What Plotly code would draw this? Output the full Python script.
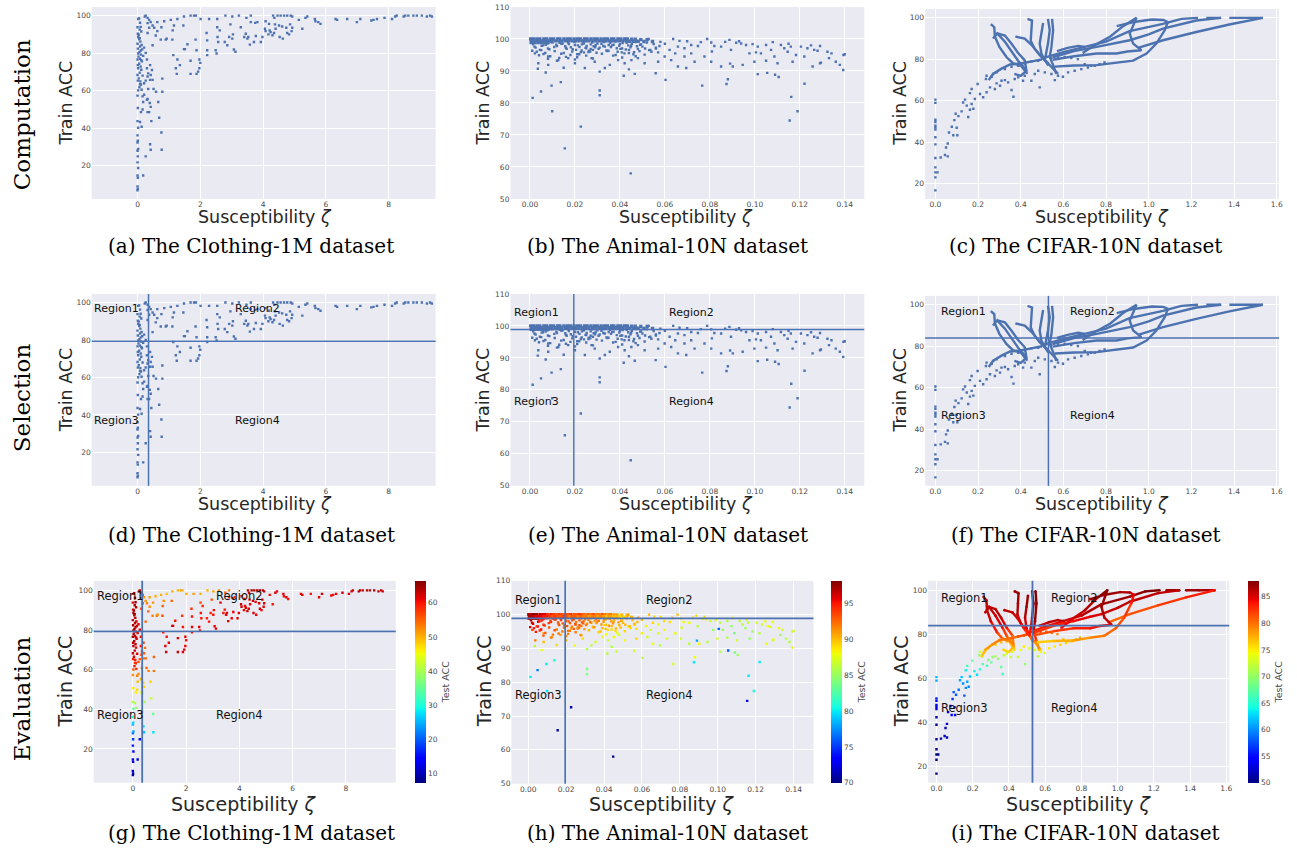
import plotly.graph_objects as go

# ======================= DATA =======================
# ---- Clothing-1M (susceptibility zeta, train acc, test acc) ----
clothing_col_x = [0.00, 0.01, 0.00, 0.01, 0.00, 0.02, 0.00, 0.01, 0.00, 0.02,
                  0.00, 0.01, 0.00, 0.02, 0.00, 0.01, 0.00, 0.02, 0.01, 0.00,
                  0.02, 0.01, 0.00, 0.02, 0.01, 0.00, 0.02, 0.01, 0.00, 0.02]
clothing_col_y = [6.8, 7.6, 8.9, 13.5, 14.7, 18.7, 21.7, 24.9, 27.9, 28.8,
                  32.3, 33.2, 36.1, 40.2, 43.7, 50.7, 57.3, 60.1, 65.3, 68.3,
                  71.9, 73.6, 76.6, 79.8, 82.4, 85.0, 88.6, 90.3, 93.8, 98.2]
clothing_col_t = [8, 9, 10, 12, 13, 15, 16, 18, 22, 24,
                  26, 27, 30, 35, 40, 46, 52, 56, 60, 62,
                  63, 63, 64, 64, 64, 63, 64, 62, 61, 60]

clothing_cluster_x = [0.05, 0.08, 0.10, 0.12, 0.04, 0.07, 0.09, 0.13, 0.15, 0.06,
                      0.11, 0.03, 0.08, 0.14, 0.05, 0.10, 0.12, 0.07, 0.16, 0.04,
                      0.09, 0.11, 0.06, 0.13, 0.08, 0.18, 0.05, 0.10, 0.07, 0.12]
clothing_cluster_y = [98.5, 96.2, 94.0, 91.5, 89.8, 88.0, 86.1, 84.3, 82.0, 80.5,
                      79.2, 78.1, 77.0, 75.6, 74.3, 72.8, 71.1, 69.6, 68.0, 66.5,
                      64.9, 63.2, 61.8, 60.4, 83.5, 78.5, 87.4, 81.4, 92.5, 76.2]
clothing_cluster_t = [63, 64, 65, 64, 65, 65, 64, 63, 62, 64,
                      63, 65, 64, 62, 64, 63, 62, 63, 61, 62,
                      60, 59, 60, 58, 63, 61, 64, 63, 64, 62]

clothing_mid_x = [0.18, 0.26, 0.42, 0.77, 0.76, 0.40, 0.13, 0.08, 0.44, 0.69,
                  0.37, 0.32, 0.11, 0.16, 0.42, 0.39, 0.32, 0.30, 0.66, 0.18,
                  0.21, 0.16, 0.34, 0.51, 0.59, 0.79, 0.08, 0.21, 0.26, 0.40,
                  0.48, 0.79, 0.32, 0.42, 0.34, 0.46, 0.30, 0.40, 0.30, 0.26,
                  0.21, 0.48, 0.74, 0.90, 0.93, 1.11, 0.32, 0.58, 0.63, 0.37,
                  0.53, 0.76, 0.48, 0.32, 0.42, 0.63, 0.85, 1.06, 1.27, 1.48,
                  0.23, 0.26, 0.32, 0.37, 1.69, 1.80, 1.86, 1.16, 1.46, 1.59,
                  1.51, 1.48, 1.88, 1.85, 1.69, 1.14, 1.25, 1.35, 1.27, 1.22,
                  1.69, 1.88, 1.93, 1.97, 2.00, 1.97, 2.01, 2.20, 2.22, 2.28,
                  2.54, 2.54, 2.62, 2.22, 2.22, 2.49, 2.52, 2.57, 2.78, 2.86,
                  2.80, 3.02, 2.96, 3.04, 3.02, 3.07, 3.12, 3.23, 1.12, 2.92, 2.55]
clothing_mid_y = [14.7, 24.9, 28.4, 28.4, 37.6, 31.4, 40.7, 43.2, 43.7, 45.5,
                  48.5, 48.5, 48.5, 49.9, 51.3, 53.4, 55.5, 55.1, 53.9, 53.9,
                  57.8, 56.9, 60.8, 60.8, 59.4, 59.4, 63.4, 63.9, 65.3, 65.7,
                  65.7, 66.4, 67.5, 68.3, 69.2, 71.0, 71.9, 73.6, 76.6, 80.1,
                  82.9, 84.2, 87.2, 87.2, 87.7, 87.2, 90.7, 89.4, 91.7, 93.5,
                  93.5, 93.8, 94.7, 96.0, 96.5, 96.5, 97.0, 97.7, 98.2, 99.5,
                  99.5, 100.0, 98.8, 97.7, 100.0, 100.0, 100.0, 94.7, 94.7, 84.7,
                  82.1, 82.1, 81.5, 87.2, 75.9, 78.9, 68.9, 73.6, 76.6, 71.9,
                  68.9, 68.9, 70.1, 71.9, 74.8, 76.6, 98.2, 90.7, 86.8, 98.2,
                  98.2, 93.8, 92.1, 81.5, 78.9, 81.5, 79.8, 85.9, 85.9, 84.2,
                  100.0, 99.5, 95.3, 90.0, 87.7, 81.9, 80.7, 100.0, 92.1, 88.6, 88.6]
clothing_mid_t = [12, 15, 26, 28, 35, 28, 38, 41, 40, 42,
                  44, 45, 46, 47, 48, 48, 50, 50, 48, 49,
                  52, 53, 54, 55, 53, 54, 58, 57, 56, 54,
                  55, 55, 57, 55, 58, 54, 60, 57, 60, 61,
                  62, 55, 53, 54, 52, 56, 58, 55, 52, 56,
                  53, 52, 52, 58, 52, 51, 50, 50, 49, 50,
                  62, 63, 60, 57, 50, 51, 50, 52, 55, 60,
                  61, 62, 60, 58, 62, 60, 62, 61, 60, 61,
                  63, 62, 62, 61, 60, 61, 50, 58, 60, 51,
                  50, 57, 59, 61, 60, 61, 60, 60, 59, 60,
                  50, 51, 56, 60, 60, 61, 62, 52, 55, 59, 60]

clothing_far_x = [3.29, 3.47, 3.61, 3.45, 3.50, 3.40, 3.61, 3.75, 3.82, 3.58,
                  3.71, 3.93, 3.53, 4.08, 4.06, 4.08, 4.24, 4.32, 4.36, 4.46,
                  4.56, 4.67, 4.77, 4.88, 4.93, 4.40, 4.38, 4.51, 4.61, 4.74,
                  4.86, 4.93, 4.91, 4.77, 4.63, 4.53, 4.83, 4.30, 4.21, 4.35,
                  4.17, 5.14, 5.35, 5.41, 5.25, 5.65, 5.67, 5.76, 5.83, 6.31,
                  6.36, 6.68, 6.99, 7.10, 7.45, 7.52, 7.63, 7.87, 8.11, 8.21,
                  8.26, 8.48, 8.53, 8.63, 8.79, 8.90, 9.06, 9.22, 9.32, 9.38,
                  4.19, 3.77, 3.98]
clothing_far_y = [93.8, 98.8, 100, 90.3, 87.7, 88.6, 96.5, 96.1, 96.5, 84.5,
                  85.9, 85.9, 88.6, 97.0, 93.0, 91.7, 91.2, 100, 98.8, 100,
                  100, 100, 100, 100, 99.5, 93.0, 95.3, 94.7, 94.2, 93.5,
                  95.3, 93.5, 91.7, 90.7, 87.7, 88.6, 90.0, 89.5, 92.1, 90.7,
                  90.0, 97.7, 98.8, 99.5, 93.0, 98.2, 97.0, 96.5, 95.6, 98.2,
                  97.7, 98.2, 96.5, 98.2, 97.4, 97.7, 98.2, 98.8, 98.2, 99.5,
                  100, 99.5, 100, 100, 100, 100, 100, 99.5, 100, 99.5,
                  95.6, 89.1, 88.6]
clothing_far_t = [61, 55, 53, 60, 61, 60, 58, 59, 58, 62,
                  61, 61, 61, 60, 62, 62, 62, 63, 62, 64,
                  65, 64, 65, 64, 63, 61, 60, 62, 61, 62,
                  61, 62, 61, 62, 61, 62, 61, 62, 61, 62,
                  61, 60, 61, 61, 60, 61, 60, 61, 60, 61,
                  62, 60, 61, 62, 61, 60, 61, 62, 61, 62,
                  63, 63, 64, 63, 64, 63, 64, 63, 63, 62,
                  61, 61, 61]

# ---- Animal-10N ----
animal_band_x = [0.0003, 0.0016, 0.0031, 0.0044, 0.0062, 0.0074, 0.0091,
                 0.0104, 0.0122, 0.0133, 0.0151, 0.0166, 0.0179, 0.0196, 0.0211, 0.0224, 0.0242, 0.0254, 0.0271, 0.0286,
                 0.0299, 0.0316, 0.0331, 0.0344, 0.0362, 0.0373, 0.0391, 0.0404, 0.0421, 0.0433, 0.0452, 0.0468, 0.0493, 0.0521,
                 0.0008, 0.0024, 0.0038, 0.0053, 0.0068, 0.0083, 0.0097,
                 0.0113, 0.0128, 0.0142, 0.0158, 0.0172, 0.0187, 0.0203, 0.0218, 0.0233, 0.0248, 0.0262, 0.0278, 0.0293,
                 0.0308, 0.0323, 0.0338, 0.0353, 0.0368, 0.0383, 0.0398, 0.0413, 0.0428, 0.0443, 0.0459, 0.0481, 0.0507, 0.0545,
                 0.0005, 0.0020, 0.0035, 0.0050, 0.0065, 0.0080]
animal_band_y = [100.0, 100.0, 100.0, 100.0, 100.0, 100.0, 100.0,
                 100.0, 100.0, 100.0, 100.0, 100.0, 100.0, 100.0, 100.0, 100.0, 100.0, 100.0, 100.0, 100.0,
                 100.0, 100.0, 100.0, 100.0, 100.0, 100.0, 100.0, 100.0, 100.0, 100.0, 99.9, 99.9, 99.8, 99.8,
                 99.4, 99.4, 99.4, 99.4, 99.4, 99.4, 99.4,
                 99.4, 99.4, 99.4, 99.4, 99.4, 99.4, 99.4, 99.4, 99.4, 99.4, 99.4, 99.4, 99.4,
                 99.4, 99.4, 99.4, 99.4, 99.4, 99.4, 99.4, 99.4, 99.4, 99.3, 99.3, 99.3, 99.2, 99.2,
                 98.9, 98.9, 98.9, 98.9, 98.9, 98.9]
animal_band_t = [97, 97, 98, 97, 97, 96, 96,
                 94, 95, 94, 93, 94, 93, 94, 93, 94, 93, 93, 94, 93,
                 92, 93, 92, 93, 92, 92, 93, 92, 91, 92, 91, 91, 90, 90,
                 97, 97, 96, 96, 96, 95, 95,
                 94, 93, 94, 93, 93, 94, 93, 92, 93, 93, 92, 93, 92,
                 92, 91, 92, 92, 91, 92, 91, 90, 91, 90, 90, 89, 89, 90,
                 97, 97, 96, 96, 95, 95]

animal_cloud_x = [0.001, 0.002, 0.004, 0.005, 0.007, 0.008, 0.010, 0.011, 0.012, 0.014,
                  0.015, 0.016, 0.017, 0.019, 0.020, 0.021, 0.022, 0.023, 0.024, 0.025,
                  0.026, 0.027, 0.028, 0.029, 0.003, 0.006, 0.009, 0.013, 0.018, 0.021,
                  0.024, 0.027, 0.001, 0.004, 0.008, 0.012, 0.016, 0.020, 0.025, 0.028,
                  0.030, 0.031, 0.033, 0.034, 0.035, 0.036, 0.038, 0.039, 0.040, 0.041,
                  0.042, 0.043, 0.044, 0.045, 0.046, 0.047, 0.048, 0.049, 0.050, 0.052,
                  0.053, 0.055, 0.056, 0.058, 0.032, 0.037, 0.041, 0.044, 0.047, 0.051,
                  0.054, 0.057,
                  0.0014, 0.0037, 0.0052, 0.0078, 0.0093, 0.0117, 0.0132, 0.0157, 0.0173, 0.0198,
                  0.0213, 0.0238, 0.0252, 0.0277, 0.0292, 0.0318, 0.0333, 0.0357, 0.0372, 0.0397,
                  0.0412, 0.0437, 0.0453, 0.0476, 0.0494, 0.0188, 0.0262, 0.0344, 0.0402, 0.0226,
                  0.0025, 0.0058, 0.0086, 0.0108, 0.0145, 0.0163, 0.0182, 0.0205, 0.0231, 0.0247,
                  0.0268, 0.0283, 0.0305, 0.0326, 0.0349, 0.0365, 0.0386, 0.0408, 0.0426, 0.0447,
                  0.0463, 0.0487, 0.0512, 0.0535, 0.0576, 0.0068, 0.0139, 0.0219, 0.0296, 0.0381]
animal_cloud_y = [98.8, 97.6, 99.1, 96.5, 98.2, 97.0, 98.9, 96.2, 97.8, 98.5,
                  95.6, 97.2, 98.9, 96.8, 98.1, 95.2, 97.5, 96.4, 98.7, 97.1,
                  95.9, 98.3, 96.6, 97.4, 96.0, 95.3, 94.6, 94.1, 95.0, 94.3,
                  95.8, 96.9, 96.3, 94.9, 93.8, 93.2, 94.4, 93.6, 94.8, 93.9,
                  98.6, 97.3, 99.0, 96.4, 98.1, 97.5, 99.2, 96.0, 98.4, 97.0,
                  95.5, 98.8, 96.6, 97.9, 95.2, 99.0, 96.9, 98.2, 97.6, 98.9,
                  96.5, 98.4, 97.3, 99.1, 95.4, 94.8, 94.2, 95.6, 94.6, 95.1,
                  96.0, 95.8,
                  98.3, 98.9, 97.9, 98.6, 99.0, 98.2, 98.8, 97.7, 98.4, 99.0,
                  98.0, 98.6, 97.8, 98.9, 98.1, 98.5, 97.6, 98.8, 98.2, 97.9,
                  98.7, 98.0, 98.5, 97.7, 98.3, 96.1, 96.3, 96.2, 96.9, 95.9,
                  97.3, 98.0, 96.8, 97.5, 98.6, 96.9, 97.4, 96.6, 98.3, 97.2,
                  96.1, 97.7, 96.9, 97.8, 96.3, 98.0, 97.1, 95.8, 96.7, 97.4,
                  95.9, 96.2, 97.0, 96.6, 97.8, 95.6, 95.4, 95.2, 95.7, 95.0]
animal_cloud_t = [96, 96, 96, 95, 94, 94, 93, 93, 94, 93,
                  92, 93, 94, 93, 93, 92, 93, 92, 94, 93,
                  92, 93, 92, 93, 95, 94, 93, 92, 92, 92,
                  93, 93, 96, 95, 93, 92, 92, 91, 92, 91,
                  92, 91, 92, 90, 91, 91, 92, 90, 91, 90,
                  89, 91, 90, 91, 89, 91, 90, 91, 90, 91,
                  89, 90, 90, 91, 90, 89, 88, 89, 88, 89,
                  89, 89,
                  97, 97, 96, 95, 94, 94, 94, 93, 94, 93,
                  93, 94, 92, 93, 92, 92, 91, 92, 92, 91,
                  91, 91, 90, 91, 90, 92, 91, 90, 89, 91,
                  96, 95, 94, 94, 94, 93, 93, 93, 93, 93,
                  92, 93, 92, 92, 91, 92, 91, 90, 91, 91,
                  90, 90, 90, 90, 90, 95, 93, 92, 91, 90]

animal_spread_x = [0.0528, 0.0637, 0.0665, 0.0699, 0.0717, 0.0658, 0.0687, 0.0621, 0.0646, 0.0687,
                   0.0717, 0.0747, 0.0788, 0.0806, 0.0820, 0.0809, 0.0850, 0.0868, 0.0887, 0.0894,
                   0.0917, 0.0939, 0.0961, 0.0976, 0.0990, 0.1013, 0.1027, 0.1050, 0.1072, 0.1087,
                   0.1116, 0.1131, 0.1146, 0.1160, 0.1183, 0.1205, 0.1234, 0.1264, 0.1279, 0.1323,
                   0.1341, 0.1360, 0.1400, 0.1330, 0.1294, 0.1220, 0.1168, 0.1101, 0.1050, 0.0998,
                   0.0946, 0.0902, 0.0850, 0.0806, 0.0776, 0.0732, 0.0695, 0.0658, 0.0628, 0.0599,
                   0.0570, 0.0510, 0.0480, 0.0451, 0.0421, 0.0392, 0.0355, 0.0333, 0.0288, 0.0274,
                   0.0244, 0.0200, 0.0170, 0.0126, 0.0081, 0.0037, 0.0022, 0.0044, 0.0081, 0.0600,
                   0.0560, 0.0760, 0.0930, 0.1080, 0.1150, 0.1250, 0.1290, 0.0440, 0.0310, 0.0150]
animal_spread_y = [100.0, 100.0, 99.4, 99.3, 98.1, 97.6, 97.1, 96.6, 95.5, 94.5,
                   95.5, 97.8, 100.0, 98.9, 97.8, 96.1, 97.6, 99.1, 99.7, 96.6,
                   98.8, 98.6, 98.1, 95.5, 98.4, 97.6, 95.5, 98.1, 96.6, 94.5,
                   98.1, 97.1, 96.0, 97.6, 95.0, 97.6, 97.1, 96.6, 96.3, 96.0,
                   95.5, 92.9, 95.2, 94.0, 92.6, 94.5, 92.9, 92.4, 93.2, 92.9,
                   91.9, 91.4, 91.4, 92.9, 94.5, 92.9, 90.9, 91.4, 93.4, 94.5,
                   92.9, 92.4, 94.0, 93.4, 92.4, 93.4, 91.9, 90.9, 92.9, 94.0,
                   90.9, 92.4, 94.0, 93.4, 91.9, 92.4, 95.5, 96.6, 94.5, 98.5,
                   97.0, 99.0, 99.3, 99.0, 98.5, 98.0, 97.8, 90.5, 89.8, 91.0]
animal_spread_t = [91, 90, 89, 89, 89, 89, 88, 88, 87, 87,
                   88, 89, 90, 89, 88, 87, 88, 89, 89, 86,
                   88, 88, 87, 85, 87, 86, 85, 86, 85, 84,
                   86, 86, 85, 86, 85, 87, 87, 88, 87, 88,
                   87, 86, 87, 85, 88, 86, 85, 87, 86, 87,
                   86, 88, 86, 87, 88, 87, 86, 88, 87, 88,
                   89, 88, 87, 88, 87, 88, 87, 86, 89, 90,
                   88, 90, 91, 91, 90, 92, 94, 93, 91, 90,
                   89, 90, 89, 88, 87, 88, 88, 86, 86, 89]

animal_out_x = [0.0012, 0.0099, 0.0137, 0.0155, 0.0226, 0.0448, 0.0310, 0.0310, 0.0096, 0.0049,
                0.0417, 0.0466, 0.0559, 0.0603, 0.0766, 0.0874, 0.0880, 0.1013, 0.1090, 0.1106,
                0.1221, 0.1162, 0.1155, 0.1190, 0.1393, 0.1394, 0.1378, 0.1257, 0.1290, 0.1005,
                0.1055, 0.0890, 0.0070, 0.0035]
animal_out_y = [81.6, 77.4, 86.5, 65.8, 72.6, 58.0, 83.9, 82.4, 85.4, 83.6,
                88.5, 89.1, 89.3, 87.2, 85.4, 85.9, 87.4, 89.0, 88.8, 88.1,
                86.0, 81.9, 74.5, 77.4, 90.3, 95.0, 91.9, 91.4, 92.4, 95.8,
                89.4, 92.3, 89.5, 90.7]
animal_out_t = [80, 80, 81, 71, 71, 70, 84, 84, 80, 77,
                86, 87, 87, 86, 87, 80, 88, 86, 84, 85,
                80, 80, 73, 81, 88, 87, 86, 88, 87, 76,
                76, 78, 88, 86]

# ---- CIFAR-10N ----
cifar_pts_x = [0.0, 0.0, 0.0, 0.0, 0.0, 0.0, 0.0, 0.0, 0.0, 0.0,
               0.0, 0.0, 0.0, 0.0, 0.01, 0.025, 0.045, 0.058, 0.05, 0.058,
               0.064, 0.077, 0.084, 0.103, 0.089, 0.10, 0.095, 0.108, 0.123, 0.13,
               0.139, 0.147, 0.154, 0.162, 0.17, 0.178, 0.162, 0.17, 0.185, 0.198,
               0.209, 0.224, 0.237, 0.24, 0.256, 0.264, 0.279, 0.287, 0.303, 0.31,
               0.326, 0.366, 0.357, 0.341, 0.372, 0.388, 0.411, 0.419, 0.45, 0.466,
               0.489, 0.482, 0.513, 0.544, 0.56, 0.575, 0.598, 0.622, 0.653, 0.684,
               0.715, 0.747, 0.77, 0.793, 0.24, 0.271, 0.287, 0.326, 0.357, 0.388,
               0.419, 0.45, 0.482, 0.544, 0.575, 0.606, 0.637, 0.668, 0.70, 0.73]
cifar_pts_y = [60.6, 59.0, 50.9, 49.8, 48.0, 47.1, 46.1, 42.4, 39.0, 32.4,
               27.9, 25.5, 23.1, 16.8, 25.5, 32.7, 33.9, 33.2, 37.5, 39.4,
               44.7, 47.5, 43.4, 43.4, 50.7, 47.0, 53.8, 52.6, 54.9, 59.2,
               60.6, 57.7, 52.2, 55.7, 58.5, 56.2, 63.7, 65.7, 60.9, 68.1,
               63.3, 61.7, 70.5, 64.1, 66.5, 71.6, 65.7, 68.4, 67.3, 69.7,
               70.0, 62.0, 65.2, 68.9, 70.5, 71.3, 69.7, 72.1, 69.7, 72.9,
               66.5, 74.5, 73.7, 72.9, 70.0, 72.1, 71.6, 73.7, 74.5, 75.3,
               76.1, 76.9, 77.7, 78.5, 72.1, 72.9, 73.7, 75.3, 76.4, 76.9,
               78.0, 79.0, 79.3, 80.6, 80.9, 81.2, 80.6, 80.1, 77.7, 76.9]
cifar_pts_t = [62, 61, 56, 55, 54, 53, 53, 52, 51, 51,
               50, 50, 50, 50, 51, 51, 52, 52, 52, 53,
               54, 55, 54, 55, 57, 56, 58, 58, 59, 61,
               62, 60, 58, 60, 61, 60, 64, 66, 62, 68,
               64, 63, 70, 65, 67, 72, 66, 69, 68, 70,
               71, 66, 68, 70, 72, 73, 72, 73, 72, 74,
               70, 75, 74, 74, 72, 74, 74, 75, 75, 76,
               76, 77, 77, 78, 73, 74, 75, 76, 77, 77,
               78, 79, 80, 81, 81, 81, 80, 79, 77, 77]

# training trajectories (thick curves)
cifar_traj_x = [
    [0.26, 0.276, 0.279, 0.30, 0.334, 0.365, 0.40, 0.42],
    [0.27, 0.29, 0.326, 0.365, 0.39, 0.42, 0.43],
    [0.29, 0.326, 0.357, 0.388, 0.419, 0.427, 0.40, 0.37],
    [0.375, 0.419, 0.45, 0.482, 0.505, 0.53],
    [0.432, 0.453, 0.45, 0.447, 0.466, 0.489, 0.513, 0.53],
    [0.505, 0.497, 0.489, 0.497, 0.513, 0.544, 0.575],
    [0.528, 0.536, 0.528, 0.521, 0.513],
    [0.547, 0.552, 0.544, 0.536, 0.552, 0.567],
    [0.25, 0.27, 0.31, 0.35, 0.40, 0.45, 0.50],
    [0.50, 0.60, 0.70, 0.80, 0.91, 1.067, 1.153, 1.231],
    [1.27, 1.30, 1.34],
    [1.378, 1.45, 1.535],
    [0.55, 0.65, 0.756, 0.849, 0.911, 1.0, 1.067, 1.223, 1.339],
    [0.95, 1.067, 1.223, 1.378, 1.535],
    [0.56, 0.65, 0.756, 0.85, 0.927, 0.99, 1.036, 1.075, 1.09, 1.068, 1.015, 0.93, 0.85],
    [0.69, 0.75, 0.82, 0.88, 0.943, 0.93, 0.911, 0.927, 0.966, 0.90, 0.849, 0.756, 0.65, 0.55],
    [0.57, 0.62, 0.67, 0.70],
]
cifar_traj_y = [
    [97, 95.5, 91, 86, 81, 78, 77, 74.5],
    [90, 92.5, 88.5, 83, 79, 75.5, 73],
    [92.5, 91.5, 87.5, 83, 79.5, 74.5, 72, 73],
    [91, 90, 87, 83, 80.4, 78],
    [99.5, 98.7, 94, 89, 85, 82, 79.6, 77],
    [97.5, 92.4, 87.6, 82.8, 79.6, 76.4, 73],
    [99.5, 94, 87.6, 82.8, 79.6],
    [99.5, 94, 86, 81.2, 77.2, 73],
    [70, 73, 75.5, 77.5, 78, 79, 80],
    [80.5, 83.5, 86, 88.5, 93.6, 97.1, 99.5, 100],
    [100, 100, 100],
    [100, 100, 100],
    [81, 84, 86, 88, 89.2, 92, 94.8, 98.7, 100],
    [85.5, 89.2, 93.2, 96.8, 100],
    [76.5, 77, 77.2, 78.5, 79.4, 82.8, 87.6, 94, 98, 99, 99.2, 98, 96],
    [83, 87, 91, 96, 100, 97, 92.4, 87.6, 84.4, 83.8, 82.8, 82.8, 81.5, 79.8],
    [84, 85.5, 86.5, 86],
]
cifar_traj_t = [
    [86, 86, 86, 85, 83, 80, 78, 76],
    [86, 86, 86, 84, 81, 78, 76],
    [86, 86, 86, 84, 81, 78, 76, 76],
    [86, 86, 85, 84, 82, 80],
    [87, 87, 87, 86, 85, 83, 81, 79],
    [87, 87, 86, 85, 82, 79, 76],
    [88, 87, 87, 85, 83],
    [88, 88, 87, 85, 81, 77],
    [76, 78, 79, 80, 80, 81, 82],
    [83, 84, 85, 86, 87, 87, 88, 88],
    [87, 87, 87],
    [87, 87, 86],
    [82, 83, 84, 85, 85, 86, 86, 86, 86],
    [80, 81, 82, 83, 84],
    [76, 77, 78, 79, 80, 81, 82, 83, 85, 86, 87, 87, 87],
    [84, 85, 86, 87, 88, 87, 87, 86, 85, 84, 84, 83, 82, 81],
    [85, 86, 86, 86],
]

# region thresholds (zeta, train acc) and tick labels
clothing_split = [0.35, 79.3]
animal_split = [0.0195, 98.9]
cifar_split = [0.53, 84.0]
clothing_xticks = [0, 2, 4, 6, 8]
clothing_yticks = [20, 40, 60, 80, 100]
animal_xticks = [0.0, 0.02, 0.04, 0.06, 0.08, 0.10, 0.12, 0.14]
animal_yticks = [50, 60, 70, 80, 90, 100, 110]
cifar_xticks = [0.0, 0.2, 0.4, 0.6, 0.8, 1.0, 1.2, 1.4, 1.6]
cifar_yticks = [20, 40, 60, 80, 100]
clothing_cbticks = [10, 20, 30, 40, 50, 60]
animal_cbticks = [70, 75, 80, 85, 90, 95]
cifar_cbticks = [50, 55, 60, 65, 70, 75, 80, 85]

row_names = ["Computation", "Selection", "Evaluation"]
captions = [["(a) The Clothing-1M dataset", "(b) The Animal-10N dataset", "(c) The CIFAR-10N dataset"],
            ["(d) The Clothing-1M dataset", "(e) The Animal-10N dataset", "(f) The CIFAR-10N dataset"],
            ["(g) The Clothing-1M dataset", "(h) The Animal-10N dataset", "(i) The CIFAR-10N dataset"]]
region_names = ["Region1", "Region2", "Region3", "Region4"]

# ======================= HELPERS =======================
for a, b, c in [(clothing_col_x, clothing_col_y, clothing_col_t),
                (clothing_cluster_x, clothing_cluster_y, clothing_cluster_t),
                (clothing_mid_x, clothing_mid_y, clothing_mid_t),
                (clothing_far_x, clothing_far_y, clothing_far_t),
                (animal_band_x, animal_band_y, animal_band_t),
                (animal_cloud_x, animal_cloud_y, animal_cloud_t),
                (animal_spread_x, animal_spread_y, animal_spread_t),
                (animal_out_x, animal_out_y, animal_out_t),
                (cifar_pts_x, cifar_pts_y, cifar_pts_t)]:
    assert len(a) == len(b) == len(c), (len(a), len(b), len(c))
for a, b, c in zip(cifar_traj_x, cifar_traj_y, cifar_traj_t):
    assert len(a) == len(b) == len(c)

clothing_x = clothing_col_x + clothing_cluster_x + clothing_mid_x + clothing_far_x
clothing_y = clothing_col_y + clothing_cluster_y + clothing_mid_y + clothing_far_y
clothing_t = clothing_col_t + clothing_cluster_t + clothing_mid_t + clothing_far_t
animal_x = animal_spread_x + animal_cloud_x + animal_out_x
animal_y = animal_spread_y + animal_cloud_y + animal_out_y
animal_t = animal_spread_t + animal_cloud_t + animal_out_t

W, H = 1297, 851
BLUE = '#4C72B0'
BG = '#EAEAF2'
SANS = 'DejaVu Sans'
SERIF = 'DejaVu Serif'
MS = 2.4      # scatter marker size
MS_BAND = 3.4  # marker size of the saturated band

JET_STOPS = [(0.0, (0, 0, 128)), (0.11, (0, 0, 255)), (0.125, (0, 0, 255)), (0.34, (0, 219, 255)),
             (0.35, (0, 230, 247)), (0.375, (21, 255, 226)), (0.64, (239, 255, 8)), (0.65, (247, 245, 0)),
             (0.66, (255, 236, 0)), (0.89, (255, 19, 0)), (0.91, (232, 0, 0)), (1.0, (128, 0, 0))]
JET = [[s, 'rgb(%d,%d,%d)' % c] for s, c in JET_STOPS]


def jet_color(v, vmin, vmax):
    f = min(1.0, max(0.0, (v - vmin) / (vmax - vmin)))
    for (s0, c0), (s1, c1) in zip(JET_STOPS[:-1], JET_STOPS[1:]):
        if s0 <= f <= s1:
            u = 0 if s1 == s0 else (f - s0) / (s1 - s0)
            return 'rgb(%d,%d,%d)' % tuple(round(a + (b - a) * u) for a, b in zip(c0, c1))
    return 'rgb(128,0,0)'


# panel pixel boxes: left, right, top, bottom
PANELS = {
    1: (92, 437, 3, 197), 2: (512, 867, 3, 197), 3: (928, 1283, 5, 197),
    4: (92, 437, 293, 487), 5: (512, 867, 293, 487), 6: (928, 1283, 295, 487),
    7: (94, 397, 583, 787), 8: (513, 816, 583, 788), 9: (931, 1233, 583, 787),
}
XR = {1: [-1.46, 9.5], 2: [-0.0087, 0.1487], 3: [-0.048, 1.611],
      4: [-1.46, 9.5], 5: [-0.0087, 0.1487], 6: [-0.048, 1.611],
      7: [-1.47, 9.87], 8: [-0.0089, 0.1505], 9: [-0.046, 1.616]}
YR = {1: [2.2, 104.6], 2: [50, 110], 3: [12.7, 104.3],
      4: [2.2, 104.6], 5: [50, 110], 6: [12.7, 104.3],
      7: [3.0, 104.8], 8: [50, 110], 9: [12.7, 104.3]}
XT = {0: (clothing_xticks, None), 1: (animal_xticks, '.2f'), 2: (cifar_xticks, '.1f')}
YT = {0: clothing_yticks, 1: animal_yticks, 2: cifar_yticks}

fig = go.Figure()
layout = dict(width=W, height=H, margin=dict(l=0, r=0, t=0, b=0),
              paper_bgcolor='white', plot_bgcolor=BG, showlegend=False,
              font=dict(family=SANS, color='#262626'))
annotations = []
shapes = []

tickfont = dict(family=SANS, size=7.5, color='#4a4a4a')
for n, (l, r, t, b) in PANELS.items():
    col = (n - 1) % 3
    xa = 'xaxis' if n == 1 else 'xaxis%d' % n
    ya = 'yaxis' if n == 1 else 'yaxis%d' % n
    tv, fmt = XT[col]
    layout[xa] = dict(domain=[l / W, r / W], anchor='y' if n == 1 else 'y%d' % n,
                      range=XR[n], tickvals=tv, tickformat=fmt, showgrid=True, gridcolor='white',
                      gridwidth=1, zeroline=False, showline=False, ticks='', tickfont=tickfont)
    layout[ya] = dict(domain=[1 - b / H, 1 - t / H], anchor='x' if n == 1 else 'x%d' % n,
                      range=YR[n], tickvals=YT[col], showgrid=True, gridcolor='white',
                      gridwidth=1, zeroline=False, showline=False, ticks='', tickfont=tickfont)


def ax(n):
    return ('x', 'y') if n == 1 else ('x%d' % n, 'y%d' % n)


datasets = [(clothing_x, clothing_y, clothing_t, 7.3, 66.4, clothing_cbticks, 416),
            (animal_x, animal_y, animal_t, 70, 98.1, animal_cbticks, 834),
            (cifar_pts_x, cifar_pts_y, cifar_pts_t, 50, 88.0, cifar_cbticks, 1252)]

for row in range(3):
    for col in range(3):
        n = row * 3 + col + 1
        xr, yr = ax(n)
        dx, dy, dt, cmin, cmax, cbt, cbx = datasets[col]
        if row < 2:
            if col == 2:
                for tx, ty in zip(cifar_traj_x, cifar_traj_y):
                    fig.add_trace(go.Scatter(x=tx, y=ty, mode='lines', xaxis=xr, yaxis=yr,
                                             line=dict(color=BLUE, width=2.4), hoverinfo='skip'))
            if col == 1:
                fig.add_trace(go.Scatter(x=animal_band_x, y=animal_band_y, mode='markers',
                                         xaxis=xr, yaxis=yr, hoverinfo='skip',
                                         marker=dict(color=BLUE, size=MS_BAND, symbol='square',
                                                     line=dict(width=0))))
            fig.add_trace(go.Scatter(x=dx, y=dy, mode='markers', xaxis=xr, yaxis=yr,
                                     marker=dict(color=BLUE, size=MS, symbol='square',
                                                 line=dict(width=0)),
                                     hoverinfo='skip'))
        else:
            if col == 1:
                fig.add_trace(go.Scatter(x=animal_band_x, y=animal_band_y, mode='markers',
                                         xaxis=xr, yaxis=yr, hoverinfo='skip',
                                         marker=dict(color=animal_band_t, colorscale=JET, cmin=cmin,
                                                     cmax=cmax, size=MS_BAND, symbol='square',
                                                     showscale=False, line=dict(width=0))))
            fig.add_trace(go.Scatter(
                x=dx, y=dy, mode='markers', xaxis=xr, yaxis=yr, hoverinfo='skip',
                marker=dict(color=dt, colorscale=JET, cmin=cmin, cmax=cmax, size=MS, symbol='square',
                            line=dict(width=0), showscale=True,
                            colorbar=dict(x=cbx / W, xanchor='left', y=1 - 583 / H, yanchor='top',
                                          len=204 / H, lenmode='fraction', thickness=11,
                                          thicknessmode='pixels', outlinewidth=0, xpad=0, ypad=0,
                                          ticks='', tickvals=cbt,
                                          tickfont=dict(family=SANS, size=7.5, color='#4a4a4a'),
                                          title=dict(text='Test ACC', side='right',
                                                     font=dict(family=SANS, size=9.5, color='#4a4a4a'))))))
            if col == 2:
                for tx, ty, tt in zip(cifar_traj_x, cifar_traj_y, cifar_traj_t):
                    for i in range(len(tx) - 1):
                        fig.add_trace(go.Scatter(
                            x=tx[i:i + 2], y=ty[i:i + 2], mode='lines', xaxis=xr, yaxis=yr,
                            hoverinfo='skip',
                            line=dict(color=jet_color((tt[i] + tt[i + 1]) / 2, cmin, cmax), width=2.4)))
                    fig.add_trace(go.Scatter(x=tx, y=ty, mode='markers', xaxis=xr, yaxis=yr,
                                             hoverinfo='skip',
                                             marker=dict(color=tt, colorscale=JET, cmin=cmin, cmax=cmax,
                                                         size=2.6, showscale=False, line=dict(width=0))))

# region split lines and labels (rows 2 and 3)
splits = [clothing_split, animal_split, cifar_split]
region_pos = [([-1.44, 3.03, -1.44, 3.03], [97, 97, 37, 37]),
              ([-0.008, 0.061, -0.008, 0.061], [104.2, 104.2, 76.3, 76.3]),
              ([0.0165, 0.624, 0.0165, 0.624], [96.7, 96.7, 46.8, 46.8])]
for row in (1, 2):
    for col in range(3):
        n = row * 3 + col + 1
        xr, yr = ax(n)
        sx, sy = splits[col]
        lw = 1.5 if row == 1 else 1.8
        shapes.append(dict(type='line', xref=xr, yref=yr + ' domain', x0=sx, x1=sx, y0=0, y1=1,
                           line=dict(color=BLUE, width=lw)))
        shapes.append(dict(type='line', xref=xr + ' domain', yref=yr, x0=0, x1=1, y0=sy, y1=sy,
                           line=dict(color=BLUE, width=lw)))
        rx, ry = region_pos[col]
        for name, px_, py_ in zip(region_names, rx, ry):
            annotations.append(dict(text=name, x=px_, y=py_, xref=xr, yref=yr, xanchor='left',
                                    yanchor='middle', showarrow=False,
                                    font=dict(family=SANS, size=11 if row == 1 else 11.5, color='#111111')))


def paper_text(text, px_, py_, size, family, angle=0, color='#111111'):
    annotations.append(dict(text=text, x=px_ / W, y=1 - py_ / H, xref='paper', yref='paper',
                            xanchor='center', yanchor='middle', showarrow=False, textangle=angle,
                            font=dict(family=family, size=size, color=color)))


# axis titles
ylab_x = [[65.7, 484, 902.5], [65.7, 484, 902.5], [65, 485, 903.3]]
ylab_y = [100, 390, 685]
xlab_x = [[266, 688, 1105], [266, 688, 1105], [245, 664, 1082]]
xlab_y = [215, 505, 808.5]
for row in range(3):
    fs = 17.5 if row < 2 else 19
    for col in range(3):
        paper_text('Train ACC', ylab_x[row][col], ylab_y[row], fs, SANS, -90, '#262626')
        paper_text('Susceptibility <i>ζ</i>', xlab_x[row][col], xlab_y[row], fs, SANS, 0, '#262626')

# row labels and captions
row_y = [111.5, 397.5, 701.7]
for row in range(3):
    paper_text(row_names[row], 22, row_y[row], 23, SERIF, -90, '#000000')
cap_x = [252, 670, 1089]
cap_y = [245, 536.7, 838]
for row in range(3):
    for col in range(3):
        paper_text(captions[row][col], cap_x[col], cap_y[row], 20, SERIF, 0, '#000000')

layout['annotations'] = annotations
layout['shapes'] = shapes
fig.update_layout(**layout)
fig.write_html('out.html')
